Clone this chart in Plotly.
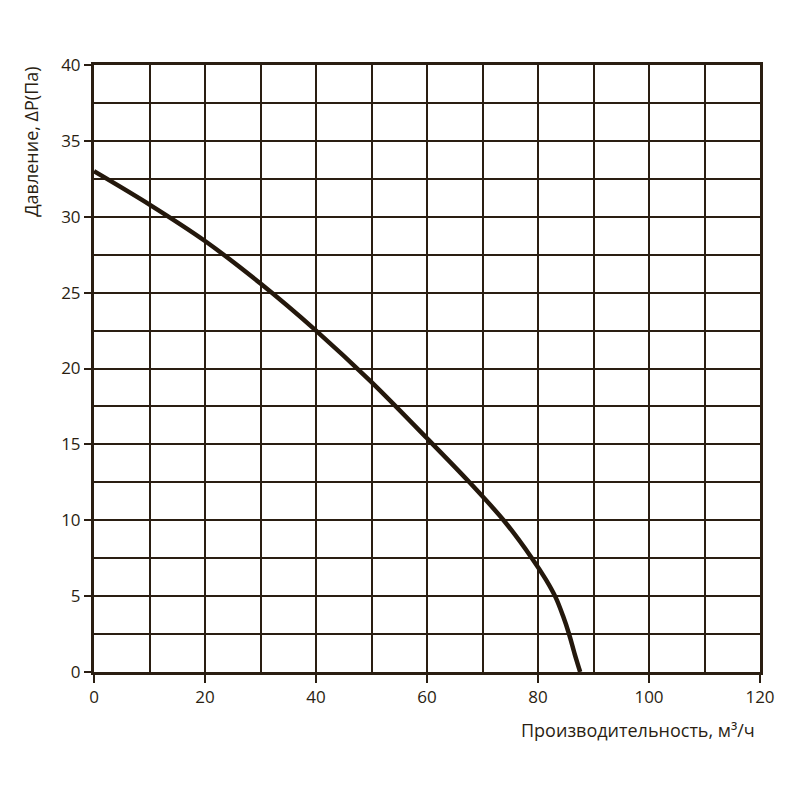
import plotly.graph_objects as go

flow = [0, 10, 20, 30, 40, 50, 60, 67.4, 73.8, 78.9, 81.4, 83.2, 84.5, 85.6, 86.6, 87.6]
pressure = [33, 30.8, 28.4, 25.6, 22.5, 19.1, 15.4, 12.6, 10.0, 7.5, 6.1, 4.9, 3.7, 2.5, 1.2, 0]

x_ticks = [0, 20, 40, 60, 80, 100, 120]
y_ticks = [0, 5, 10, 15, 20, 25, 30, 35, 40]

ink = "#2a1e12"
font = "Open Sans"

fig = go.Figure()
fig.add_trace(go.Scatter(x=flow, y=pressure, mode="lines",
                         line=dict(color="#24180c", width=4.5, shape="spline", smoothing=0.9),
                         showlegend=False, hoverinfo="skip"))

fig.update_layout(
    width=800, height=800,
    margin=dict(l=86, r=48, t=57, b=136),
    plot_bgcolor="white", paper_bgcolor="white",
    font=dict(family=font, size=17, color=ink),
)
fig.update_xaxes(range=[0, 120], tickvals=x_ticks, ticktext=[str(v) for v in x_ticks],
                 showgrid=True, gridcolor=ink, gridwidth=2,
                 minor=dict(dtick=10, showgrid=True, gridcolor=ink, gridwidth=2),
                 ticks="outside", ticklen=8, tickwidth=2, tickcolor=ink,
                 showline=True, linecolor=ink, linewidth=3, mirror=True,
                 zeroline=False, tickfont=dict(size=17, color=ink, family=font))
fig.update_yaxes(range=[0, 40], tickvals=y_ticks, ticktext=[str(v) for v in y_ticks],
                 showgrid=True, gridcolor=ink, gridwidth=2,
                 minor=dict(dtick=2.5, showgrid=True, gridcolor=ink, gridwidth=2),
                 ticks="outside", ticklen=7, tickwidth=2, tickcolor=ink,
                 showline=True, linecolor=ink, linewidth=3, mirror=True,
                 zeroline=False, tickfont=dict(size=17, color=ink, family=font))

fig.add_annotation(text="Производительность, м³/ч", xref="paper", yref="paper",
                   x=0.995, y=-0.095, xanchor="right", yanchor="middle", showarrow=False,
                   font=dict(size=18, color=ink, family=font))
fig.add_annotation(text="Давление, ΔP(Па)", xref="paper", yref="paper",
                   x=-0.095, y=1.0, xanchor="center", yanchor="top", textangle=-90, showarrow=False,
                   font=dict(size=18, color=ink, family=font))

fig.write_html("out.html")
